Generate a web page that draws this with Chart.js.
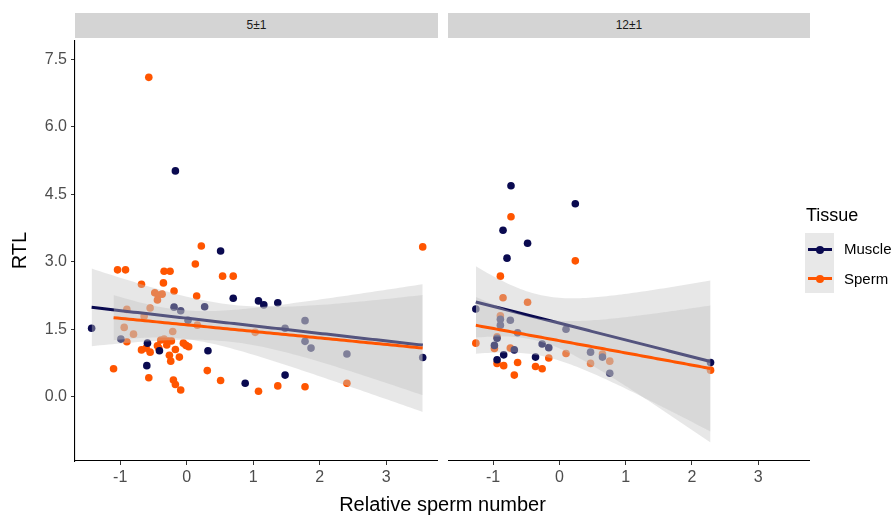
<!DOCTYPE html>
<html>
<head>
<meta charset="utf-8">
<script src="https://cdn.jsdelivr.net/npm/chart.js@4.4.1/dist/chart.umd.min.js"></script>
<style>
  body { margin: 0; background: #fff; font-family: "Liberation Sans", Arial, sans-serif; }
  #wrap { position: relative; width: 893px; height: 517px; overflow: hidden; }
  canvas { position: absolute; }
  .strip { position: absolute; top: 13px; height: 25px; background: #d4d4d4; color: #1a1a1a;
           font-size: 12px; line-height: 25px; text-align: center; }
  .txt { position: absolute; white-space: nowrap; }
</style>
</head>
<body>
<div id="wrap">
  <div class="strip" style="left:75px; width:363px;">5±1</div>
  <div class="strip" style="left:448px; width:362px;">12±1</div>
  <canvas id="c1" width="438" height="460" style="left:0; top:40px;"></canvas>
  <canvas id="c2" width="362" height="460" style="left:448px; top:40px;"></canvas>
  <div class="txt" style="left:0; width:885px; top:494px; font-size:20px; line-height:1; text-align:center;">Relative sperm number</div>

  <!-- legend -->
  <div class="txt" style="left:806px; top:206px; font-size:18px; line-height:1;">Tissue</div>
  <div style="position:absolute; left:805px; top:233px; width:29px; height:60px; background:#e8e8e8;"></div>
  <div style="position:absolute; left:808px; top:248px; width:24px; height:3px; background:#0a0a50;"></div>
  <div style="position:absolute; left:816px; top:245.5px; width:8px; height:8px; border-radius:50%; background:#0a0a50;"></div>
  <div style="position:absolute; left:808px; top:277px; width:24px; height:3px; background:#ff5500;"></div>
  <div style="position:absolute; left:816px; top:274.5px; width:8px; height:8px; border-radius:50%; background:#ff5500;"></div>
  <div class="txt" style="left:844px; top:241px; font-size:15px; line-height:1;">Muscle</div>
  <div class="txt" style="left:844px; top:271px; font-size:15px; line-height:1;">Sperm</div>
</div>
<script>
// facet labels
const panels = ['5±1', '12±1'];
const tissues = ['Muscle', 'Sperm'];

// axis ticks
const xTicks = [-1, 0, 1, 2, 3];
const yTicks = [0, 1.5, 3.0, 4.5, 6.0, 7.5];

// panel 5±1
const muscleX1 = [-0.17, 0.51, 0.70, 1.08, 1.16, 1.37, -1.43, -0.59, -0.41, -0.60, 0.32, 0.88, 1.48, 3.55,
  -0.99, -0.19, -0.09, 0.27, 0.02, 1.48, 1.78, 1.78, 1.87, 2.41];
const muscleY1 = [5.02, 3.24, 2.19, 2.13, 2.04, 2.09, 1.52, 1.19, 1.02, 0.69, 1.02, 0.30, 0.48, 0.87,
  1.28, 1.99, 1.91, 2.00, 1.70, 1.52, 1.69, 1.23, 1.08, 0.95];
const spermX1 = [0.22, -1.04, -0.92, -0.34, -0.25, 0.13, 0.54, 0.70, -0.68, -0.35, -0.19, 0.15, 3.55,
  -1.10, -0.57, -0.20, -0.17, -0.09, 0.31, 0.51, 1.08, 1.37, 1.78, 2.41,
  -0.90, -0.68, -0.61, -0.55, -0.44, -0.42, -0.39, -0.34, -0.28, -0.23, -0.30, -0.17, -0.26, -0.24, -0.11,
  -0.05, -0.01, 0.03, -0.94, -0.90, -0.80, -0.64, -0.55, -0.48, -0.43, -0.37, -0.44, -0.21, 0.16, 1.03, -0.57];
const spermY1 = [3.35, 2.82, 2.82, 2.79, 2.79, 2.95, 2.68, 2.68, 2.50, 2.53, 2.35, 2.24, 3.33,
  0.62, 0.42, 0.37, 0.27, 0.15, 0.58, 0.36, 0.12, 0.24, 0.22, 0.30,
  1.22, 1.04, 1.08, 0.99, 1.13, 1.08, 1.26, 1.28, 1.24, 1.24, 1.15, 1.05, 0.92, 0.79, 0.88,
  1.19, 1.14, 1.11, 1.54, 1.94, 1.39, 1.79, 1.97, 2.31, 2.26, 2.28, 2.15, 1.45, 1.59, 1.43, 7.10];

// panel 12±1
const muscleX2 = [-0.73, 0.24, -0.85, -0.48, -0.79, -1.26, -0.89, -0.74, -0.89, -0.63, 0.10, -0.94, -0.98,
  -0.68, -0.26, -0.16, 0.47, 0.65, 0.76, -0.94, -0.84, -0.36, 2.28];
const muscleY2 = [4.69, 4.29, 3.70, 3.41, 3.08, 1.95, 1.72, 1.70, 1.59, 1.42, 1.50, 1.30, 1.14,
  1.04, 1.17, 1.09, 0.99, 0.88, 0.52, 0.82, 0.93, 0.88, 0.76];
const spermX2 = [-0.73, 0.24, -0.89, -0.85, -0.48, -0.89, -0.94, -0.98, -0.74, -0.16, 0.10, 0.47, 0.65,
  0.76, -1.26, -0.94, -0.84, -0.63, -0.68, -0.36, -0.26, 2.28];
const spermY2 = [4.00, 3.02, 2.68, 2.20, 2.10, 1.80, 1.33, 1.07, 1.08, 0.86, 0.96, 0.74, 0.95,
  0.79, 1.19, 0.74, 0.69, 0.76, 0.48, 0.67, 0.62, 0.59];

const navy = '#0a0a50';
const orange = '#ff5500';
const bandFill = 'rgba(196,196,196,0.4)';
const font = 'Liberation Sans';

// t quantile (0.975) approximation
function qt975(df) {
  const z = 1.959964;
  return z + (z ** 3 + z) / (4 * df) + (5 * z ** 5 + 16 * z ** 3 + 3 * z) / (96 * df * df) +
    (3 * z ** 7 + 19 * z ** 5 + 17 * z ** 3 - 15 * z) / (384 * df ** 3);
}

// linear fit with 95% confidence band, like geom_smooth(method = 'lm')
function lmBand(xs, ys) {
  const n = xs.length;
  const mx = xs.reduce((a, b) => a + b, 0) / n;
  const my = ys.reduce((a, b) => a + b, 0) / n;
  let sxx = 0, sxy = 0;
  for (let i = 0; i < n; i++) {
    sxx += (xs[i] - mx) ** 2;
    sxy += (xs[i] - mx) * (ys[i] - my);
  }
  const b = sxy / sxx, a = my - b * mx;
  let sse = 0;
  for (let i = 0; i < n; i++) sse += (ys[i] - a - b * xs[i]) ** 2;
  const s = Math.sqrt(sse / (n - 2));
  const t = qt975(n - 2);
  const lo = Math.min(...xs), hi = Math.max(...xs);
  const fit = [], upper = [], lower = [];
  for (let i = 0; i < 80; i++) {
    const x = lo + (hi - lo) * i / 79;
    const y = a + b * x;
    const se = s * Math.sqrt(1 / n + (x - mx) ** 2 / sxx);
    fit.push({ x, y });
    upper.push({ x, y: y + t * se });
    lower.push({ x, y: y - t * se });
  }
  return { fit, upper, lower };
}

function pts(xs, ys) {
  return xs.map((x, i) => ({ x, y: ys[i] }));
}

function makeDatasets(mx, my, sx, sy) {
  const m = lmBand(mx, my);
  const s = lmBand(sx, sy);
  const none = 'rgba(0,0,0,0)';
  return [
    { label: 'Sperm fit', data: s.fit, borderColor: orange, borderWidth: 3, pointRadius: 0, order: 1 },
    { data: s.upper, borderColor: none, backgroundColor: bandFill, fill: '+1', pointRadius: 0, order: 2 },
    { data: s.lower, borderColor: none, pointRadius: 0, order: 2 },
    { label: 'Muscle fit', data: m.fit, borderColor: navy, borderWidth: 3, pointRadius: 0, order: 3 },
    { data: m.upper, borderColor: none, backgroundColor: bandFill, fill: '+1', pointRadius: 0, order: 4 },
    { data: m.lower, borderColor: none, pointRadius: 0, order: 4 },
    { label: tissues[0], data: pts(mx, my), showLine: false, pointRadius: 3.8, pointBorderWidth: 0,
      pointBackgroundColor: navy, order: 5 },
    { label: tissues[1], data: pts(sx, sy), showLine: false, pointRadius: 3.8, pointBorderWidth: 0,
      pointBackgroundColor: orange, order: 6 }
  ];
}

function makeChart(id, datasets, showY) {
  return new Chart(document.getElementById(id).getContext('2d'), {
    type: 'line',
    data: { datasets },
    options: {
      responsive: false,
      animation: false,
      devicePixelRatio: 1,
      layout: { padding: 0, autoPadding: false },
      plugins: { legend: { display: false }, tooltip: { enabled: false } },
      scales: {
        x: {
          type: 'linear',
          min: -1.68,
          max: 3.78,
          afterBuildTicks: s => { s.ticks = xTicks.map(v => ({ value: v })); },
          ticks: { color: '#4d4d4d', font: { family: font, size: 16 }, padding: 3, maxRotation: 0, autoSkip: false },
          grid: { display: true, drawOnChartArea: false, drawTicks: true, tickLength: 4, color: '#333' },
          border: { display: true, color: '#000', width: 1.1 },
          afterFit: s => { s.height = 39; s.paddingLeft = 0; s.paddingRight = 0; }
        },
        y: {
          type: 'linear',
          display: showY,
          min: -1.43,
          max: 7.93,
          afterBuildTicks: s => { s.ticks = yTicks.map(v => ({ value: v })); },
          ticks: { color: '#4d4d4d', font: { family: font, size: 16 }, padding: 4, callback: v => v.toFixed(1) },
          grid: { display: true, drawOnChartArea: false, drawTicks: true, tickLength: 4, color: '#333' },
          border: { display: true, color: '#000', width: 1.1 },
          title: { display: true, text: 'RTL', color: '#000', font: { family: font, size: 20 }, padding: { top: 8, bottom: 0 } },
          afterFit: s => { s.width = showY ? 75 : 0; s.paddingTop = 0; s.paddingBottom = 0; }
        }
      }
    }
  });
}

makeChart('c1', makeDatasets(muscleX1, muscleY1, spermX1, spermY1), true);
makeChart('c2', makeDatasets(muscleX2, muscleY2, spermX2, spermY2), false);
</script>
</body>
</html>
